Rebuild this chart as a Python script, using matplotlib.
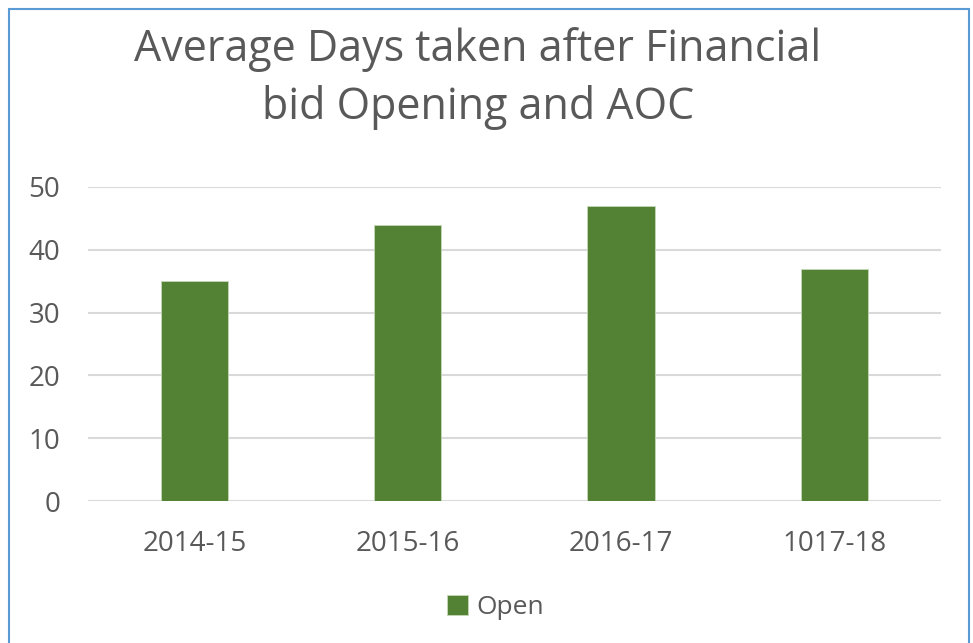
import matplotlib.pyplot as plt
from matplotlib.patches import Rectangle

# 数据
years = ['2014-15', '2015-16', '2016-17', '1017-18']
open_days = [35, 44, 47, 37]

plt.rcParams['font.family'] = ['Open Sans', 'DejaVu Sans']
text_color = '#595959'
bar_color = '#548235'

fig = plt.figure(figsize=(9.73, 6.43), dpi=100)
ax = fig.add_axes([0.0904, 0.2208, 0.8766, 0.4884])

x = range(len(years))
ax.bar(x, open_days, width=0.315, color=bar_color, edgecolor='#c5d9b8',
       linewidth=0.6, zorder=3, label='Open')

ax.set_xlim(-0.5, len(years) - 0.5)
ax.set_ylim(0, 50)
ax.set_yticks(range(0, 51, 10))
ax.set_xticks(list(x))
ax.set_xticklabels(years)
ax.tick_params(axis='both', length=0, labelsize=20, colors=text_color)
ax.tick_params(axis='x', pad=21)
ax.tick_params(axis='y', pad=20)
ax.grid(axis='y', color='#d9d9d9', linewidth=1.5, zorder=0)
for s in ax.spines.values():
    s.set_visible(False)

# 标题
fig.text(0.491, 0.878, 'Average Days taken after Financial\nbid Opening and AOC',
         ha='center', va='center', fontsize=31, color=text_color,
         linespacing=1.36)

# 图例
ax.legend(loc='center', bbox_to_anchor=(0.478, -0.338), frameon=False,
          fontsize=19, labelcolor=text_color, handlelength=0.8,
          handleheight=0.8, handletextpad=0.3)

# 图表边框
fig.patches.append(Rectangle((9 / 973, -0.05), 960 / 973, 1 - 9 / 643 + 0.05,
                             transform=fig.transFigure, fill=False,
                             edgecolor='#5b9bd5', linewidth=1.5))

fig.savefig('out.png', dpi=100)
